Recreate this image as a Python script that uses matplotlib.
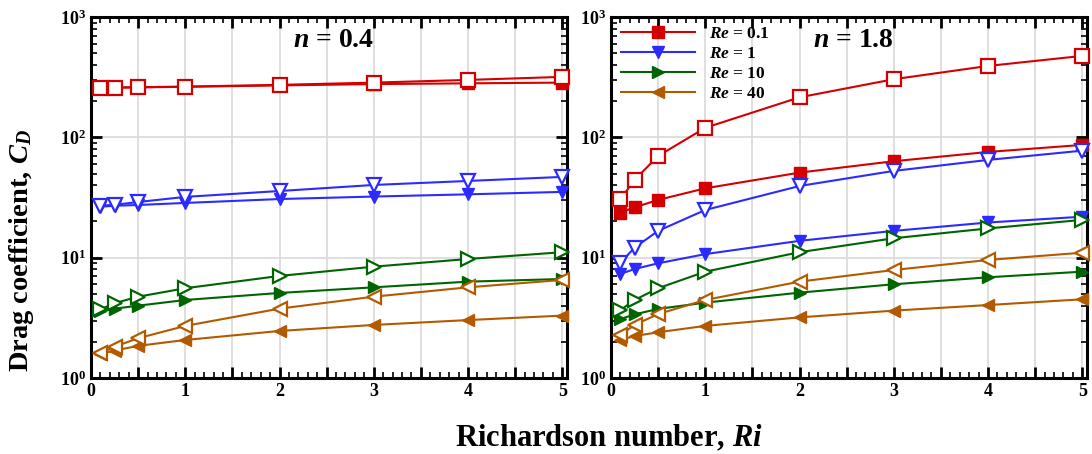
import numpy as np
import matplotlib
matplotlib.use("Agg")
import matplotlib.pyplot as plt
from matplotlib.ticker import MultipleLocator, LogLocator, FixedLocator, FixedFormatter, NullFormatter

plt.rcParams['font.family'] = ['Liberation Serif', 'DejaVu Serif']
plt.rcParams['font.weight'] = 'bold'
plt.rcParams['mathtext.fontset'] = 'custom'
plt.rcParams['mathtext.rm'] = 'Liberation Serif:bold'
plt.rcParams['mathtext.it'] = 'Liberation Serif:italic:bold'
plt.rcParams['mathtext.bf'] = 'Liberation Serif:bold'

# Richardson numbers
ri = [0.1, 0.25, 0.5, 1, 2, 3, 4, 5]
re_labels = ['0.1', '1', '10', '40']

# n = 0.4 (filled / open)
n04_re01_f = [258, 259, 260, 263, 270, 277, 281, 285]
n04_re01_o = [258, 259, 261, 264, 273, 285, 300, 318]
n04_re1_f = [26.5, 27.0, 27.4, 28.5, 30.7, 32.2, 33.6, 35.2]
n04_re1_o = [27.0, 27.5, 29.0, 32.0, 35.8, 40.2, 43.4, 46.9]
n04_re10_f = [3.60, 3.77, 3.99, 4.45, 5.09, 5.67, 6.32, 6.65]
n04_re10_o = [3.72, 4.18, 4.74, 5.57, 7.05, 8.42, 9.75, 11.1]
n04_re40_f = [1.58, 1.69, 1.85, 2.07, 2.46, 2.76, 3.03, 3.30]
n04_re40_o = [1.60, 1.82, 2.14, 2.71, 3.77, 4.74, 5.67, 6.53]

# n = 1.8 (filled / open)
n18_re01_f = [23.7, 26.2, 30.2, 37.7, 50.9, 63.3, 75.6, 86.5]
n18_re01_o = [30.6, 44.3, 70.0, 120, 215, 304, 392, 475]
n18_re1_f = [7.32, 8.05, 8.98, 10.7, 13.8, 16.7, 19.6, 21.9]
n18_re1_o = [9.1, 12.1, 16.7, 24.9, 39.4, 52.6, 64.9, 77.5]
n18_re10_f = [3.09, 3.38, 3.75, 4.23, 5.12, 6.01, 6.87, 7.65]
n18_re10_o = [3.67, 4.45, 5.57, 7.65, 11.1, 14.5, 17.5, 20.6]
n18_re40_f = [2.07, 2.23, 2.40, 2.71, 3.19, 3.63, 4.04, 4.51]
n18_re40_o = [2.28, 2.76, 3.40, 4.45, 6.32, 7.90, 9.57, 11.0]

colors = ['#d40000', '#2b2bff', '#006400', '#b35a00']
markers = ['s', 'v', '>', '<']

panels = [
    ('0.4', [n04_re01_f, n04_re1_f, n04_re10_f, n04_re40_f],
            [n04_re01_o, n04_re1_o, n04_re10_o, n04_re40_o]),
    ('1.8', [n18_re01_f, n18_re1_f, n18_re10_f, n18_re40_f],
            [n18_re01_o, n18_re1_o, n18_re10_o, n18_re40_o]),
]

fig = plt.figure(figsize=(10.92, 4.54), dpi=100)
lefts = [91 / 1092, 611 / 1092]
W = 476 / 1092
B = 1 - 378 / 454
H = 361 / 454

for k, (nval, filled, opened) in enumerate(panels):
    ax = fig.add_axes([lefts[k], B, W, H])
    for i in range(4):
        ax.plot(ri, filled[i], color=colors[i], marker=markers[i], ms=8,
                lw=1.5, mfc=colors[i], mec=colors[i], clip_on=False, zorder=3,
                label=r'$Re$ = ' + re_labels[i])
        ax.plot(ri, opened[i], color=colors[i], marker=markers[i], ms=9.5,
                lw=1.5, mfc='white', mec=colors[i], mew=1.6, clip_on=False, zorder=3)
    ax.set_yscale('log')
    ax.set_ylim(1, 1000)
    ax.set_xlim(0, 5.05)
    xt = [0, 0.5, 1, 1.5, 2, 2.5, 3, 3.5, 4, 4.5, 5]
    ax.xaxis.set_major_locator(FixedLocator(xt))
    ax.xaxis.set_major_formatter(FixedFormatter(
        [str(int(v)) if v == int(v) else '' for v in xt]))
    ax.xaxis.set_minor_locator(MultipleLocator(0.1))
    ax.yaxis.set_major_locator(FixedLocator([1, 10, 100, 1000]))
    ax.yaxis.set_major_formatter(FixedFormatter(
        [r'$10^{0}$', r'$10^{1}$', r'$10^{2}$', r'$10^{3}$']))
    ax.yaxis.set_minor_locator(LogLocator(base=10, subs=np.arange(2, 10), numticks=20))
    ax.yaxis.set_minor_formatter(NullFormatter())
    ax.tick_params(which='both', direction='in', top=True, right=True,
                   labelsize=13, width=1.2)
    ax.tick_params(which='major', length=8, width=2)
    ax.tick_params(which='minor', length=4)
    ax.grid(True, which='major', color='#d9d9d9', lw=1.2, zorder=0)
    for s in ax.spines.values():
        s.set_linewidth(2.2)
    ax.text(0.51, 0.935, r'$n$ = ' + nval, transform=ax.transAxes,
            ha='center', va='center', fontsize=20, fontweight='bold')
    if k == 1:
        ax.legend(loc='upper left', bbox_to_anchor=(-0.005, 1.01), frameon=False,
                  fontsize=12.5, handlelength=4.3, handletextpad=0.8,
                  labelspacing=0.22, borderaxespad=0.3)

fig.text(22 / 1092, 1 - 250 / 454, r'Drag coefficient, $C_D$', rotation=90,
         ha='center', va='center', fontsize=20.5, fontweight='bold')
fig.text(609 / 1092, 1 - 438 / 454, r'Richardson number, $Ri$',
         ha='center', va='center', fontsize=22, fontweight='bold')

fig.savefig('out.png', dpi=100)
